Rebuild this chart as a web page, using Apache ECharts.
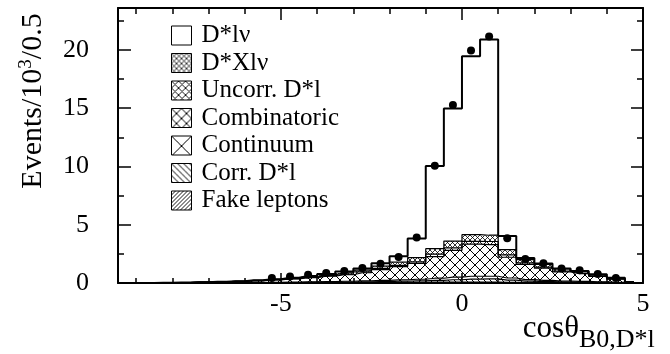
<!DOCTYPE html>
<html>
<head>
<meta charset="utf-8">
<script src="https://cdn.jsdelivr.net/npm/echarts@6/dist/echarts.min.js"></script>
<style>
  html, body { margin: 0; padding: 0; background: #fff; }
  #chart { width: 670px; height: 354px; }
</style>
</head>
<body>
<div id="chart"></div>
<script>
// bin centres, width 0.5
const binCenters = [-9.25, -8.75, -8.25, -7.75, -7.25, -6.75, -6.25, -5.75, -5.25, -4.75,
  -4.25, -3.75, -3.25, -2.75, -2.25, -1.75, -1.25, -0.75, -0.25, 0.25,
  0.75, 1.25, 1.75, 2.25, 2.75, 3.25, 3.75, 4.25, 4.75]

// MC components, Events/10^3 per bin (stack order bottom -> top)
const fakeLeptons  = [0, 0, 0, 0, 0, 0, 0.01, 0.01, 0.01, 0.01, 0.02, 0.02, 0.03, 0.03, 0.04, 0.05, 0.06, 0.07, 0.08, 0.08, 0.08, 0.05, 0.04, 0.03, 0.02, 0.02, 0.01, 0.01, 0]
const corrDl       = [0, 0, 0, 0, 0.01, 0.01, 0.01, 0.01, 0.02, 0.02, 0.03, 0.04, 0.05, 0.06, 0.08, 0.1, 0.12, 0.16, 0.2, 0.25, 0.28, 0.2, 0.12, 0.09, 0.07, 0.05, 0.04, 0.02, 0.01]
const continuum    = [0, 0, 0.01, 0.01, 0.01, 0.01, 0.02, 0.02, 0.03, 0.04, 0.05, 0.06, 0.07, 0.09, 0.1, 0.12, 0.14, 0.18, 0.22, 0.25, 0.22, 0.18, 0.13, 0.1, 0.08, 0.07, 0.05, 0.03, 0.01]
const combinatoric = [0, 0.01, 0.01, 0.03, 0.05, 0.07, 0.1, 0.15, 0.21, 0.28, 0.36, 0.46, 0.56, 0.7, 0.93, 1.13, 1.36, 1.86, 2.3, 2.75, 2.72, 1.78, 1.3, 1.05, 0.78, 0.66, 0.47, 0.27, 0.05]
const uncorrDl     = [0, 0, 0, 0, 0, 0.01, 0.01, 0.01, 0.02, 0.03, 0.04, 0.05, 0.06, 0.08, 0.1, 0.12, 0.14, 0.2, 0.22, 0.24, 0.26, 0.2, 0.13, 0.1, 0.08, 0.06, 0.05, 0.03, 0.01]
const dXlnu        = [0, 0, 0, 0, 0, 0, 0, 0.02, 0.02, 0.04, 0.06, 0.09, 0.11, 0.14, 0.2, 0.28, 0.36, 0.48, 0.58, 0.58, 0.54, 0.45, 0.28, 0.23, 0.17, 0.14, 0.1, 0.06, 0]
const dlnu         = [0, 0, 0, 0, 0, 0, 0, 0.01, 0.02, 0.03, 0.04, 0.06, 0.1, 0.15, 0.25, 0.5, 1.64, 7.09, 11.37, 15.31, 16.79, 1.17, 0.15, 0.08, 0.05, 0.04, 0.03, 0.02, 0]

// data points
const dataX = [-5.25, -4.75, -4.25, -3.75, -3.25, -2.75, -2.25, -1.75, -1.25, -0.75,
  -0.25, 0.25, 0.75, 1.25, 1.75, 2.25, 2.75, 3.25, 3.75, 4.25]
const dataY = [0.42, 0.55, 0.7, 0.85, 1.03, 1.29, 1.66, 2.23, 3.9, 10.06,
  15.28, 19.95, 21.15, 3.83, 2.05, 1.7, 1.25, 1.09, 0.78, 0.43]

const xMajor = [-5, 0, 5]
const xMinor = [-9, -8, -7, -6, -4, -3, -2, -1, 1, 2, 3, 4]
const yMajor = [0, 5, 10, 15, 20]
const yMinor = [2.5, 7.5, 12.5, 17.5, 22.5]

const FONT = 'Liberation Serif'

// hatch fills, drawn on small tiles
function hatch(size, fwd, back, lw) {
  const c = document.createElement('canvas')
  c.width = c.height = size
  const g = c.getContext('2d')
  g.fillStyle = '#fff'
  g.fillRect(0, 0, size, size)
  g.strokeStyle = '#000'
  g.lineWidth = lw || 1
  g.beginPath()
  if (fwd) { // "/"
    g.moveTo(-1, size + 1); g.lineTo(size + 1, -1)
    g.moveTo(-1, 1); g.lineTo(1, -1)
    g.moveTo(size - 1, size + 1); g.lineTo(size + 1, size - 1)
  }
  if (back) { // "\"
    g.moveTo(-1, -1); g.lineTo(size + 1, size + 1)
    g.moveTo(size - 1, -1); g.lineTo(size + 1, 1)
    g.moveTo(-1, size - 1); g.lineTo(1, size + 1)
  }
  g.stroke()
  return { image: c, repeat: 'repeat' }
}

const components = [
  { name: 'Fake leptons', data: fakeLeptons,  fill: hatch(4, true, false, 0.9) },
  { name: 'Corr. D*l',    data: corrDl,       fill: hatch(6, false, true) },
  { name: 'Continuum',    data: continuum,    fill: hatch(20, true, true) },
  { name: 'Combinatoric', data: combinatoric, fill: hatch(10, true, true) },
  { name: 'Uncorr. D*l',  data: uncorrDl,     fill: hatch(7, true, true, 0.9) },
  { name: 'D*Xl\u03bd',   data: dXlnu,        fill: hatch(5, true, true, 0.8) },
  { name: 'D*l\u03bd',    data: dlnu,         fill: '#fff' },
]

const series = []
components.forEach((c) => {
  series.push({
    name: c.name, type: 'bar', xAxisIndex: 0, yAxisIndex: 0, stack: 'mc',
    data: c.data, barWidth: '100%', itemStyle: { color: c.fill }, silent: true,
  })
})
components.forEach((c, i) => {
  series.push({
    type: 'line', xAxisIndex: 0, yAxisIndex: 0, stack: 'outline', step: 'middle',
    data: c.data, symbol: 'none', silent: true, z: 3,
    lineStyle: { color: '#000', width: i === components.length - 1 ? 2 : 1.2 },
  })
})
series.push({
  type: 'scatter', xAxisIndex: 1, yAxisIndex: 0, z: 6, symbolSize: 8,
  data: dataX.map((x, i) => [x, dataY[i]]), itemStyle: { color: '#000', opacity: 1 },
})

function xAx(position, values, len, line, labels) {
  return {
    type: 'value', min: -9.5, max: 5, position, z: 5,
    axisLine: { show: line, onZero: false, lineStyle: { color: '#000', width: 2 } },
    axisTick: { inside: true, length: len, customValues: values, lineStyle: { color: '#000', width: 1.5 } },
    axisLabel: labels
      ? { customValues: values, margin: 8, color: '#000', fontFamily: FONT, fontSize: 26 }
      : { show: false },
    splitLine: { show: false },
  }
}
function yAx(position, values, len, line, labels) {
  return {
    type: 'value', min: 0, max: 23.6, position, z: 5,
    axisLine: { show: line, onZero: false, lineStyle: { color: '#000', width: 2 } },
    axisTick: { inside: true, length: len, customValues: values, lineStyle: { color: '#000', width: 1.5 } },
    axisLabel: labels
      ? { customValues: values, margin: 29, color: '#000', fontFamily: FONT, fontSize: 26 }
      : { show: false },
    splitLine: { show: false },
  }
}

const chart = echarts.init(document.getElementById('chart'))
chart.setOption({
  animation: false,
  backgroundColor: '#fff',
  grid: { left: 118, right: 27, top: 8, bottom: 71 },
  xAxis: [
    { type: 'category', data: binCenters.map(String), show: false, boundaryGap: true },
    xAx('bottom', xMajor, 10, true, true),
    xAx('bottom', xMinor, 5, false, false),
    xAx('top', xMajor, 12, true, false),
    xAx('top', xMinor, 6, false, false),
  ],
  yAxis: [
    yAx('left', yMajor, 13, true, true),
    yAx('left', yMinor, 6, false, false),
    yAx('right', yMajor, 12, true, false),
    yAx('right', yMinor, 6, false, false),
  ],
  legend: {
    orient: 'vertical', left: 166, top: 18, icon: 'rect',
    itemWidth: 20, itemHeight: 19, itemGap: 2.5, selectedMode: false,
    data: components.map((c) => c.name).reverse(),
    itemStyle: { borderColor: '#000', borderWidth: 1 },
    textStyle: { fontFamily: FONT, fontSize: 25, color: '#000', padding: [0, 0, 0, 5] },
  },
  graphic: [
    {
      type: 'text', x: 33, y: 101, rotation: Math.PI / 2,
      style: {
        text: '{n|Events/10}{s|3}{n|/0.5}', align: 'center', verticalAlign: 'middle',
        rich: {
          n: { fontFamily: FONT, fontSize: 30, fill: '#000', lineHeight: 32 },
          s: { fontFamily: FONT, fontSize: 19, fill: '#000', verticalAlign: 'top', lineHeight: 32 },
        },
      },
    },
    {
      type: 'text', x: 579, y: 344,
      style: { text: 'cos\u03b8', align: 'right', verticalAlign: 'bottom', fontFamily: FONT, fontSize: 31, fill: '#000' },
    },
    {
      type: 'text', x: 579, y: 353,
      style: { text: 'B0,D*l', align: 'left', verticalAlign: 'bottom', fontFamily: FONT, fontSize: 26, fill: '#000' },
    },
  ],
  series,
})
</script>
</body>
</html>
